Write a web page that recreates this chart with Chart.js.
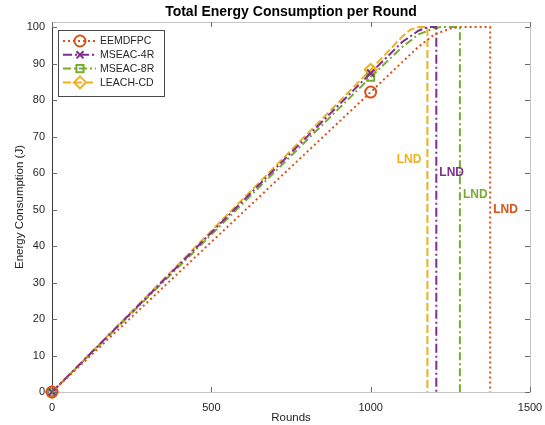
<!DOCTYPE html>
<html>
<head>
<meta charset="utf-8">
<script src="https://cdn.jsdelivr.net/npm/chart.js@4.4.1/dist/chart.umd.min.js"></script>
<style>
  html, body { margin: 0; padding: 0; background: #fff; }
  #wrap { width: 545px; height: 425px; }
</style>
</head>
<body>
<div id="wrap"><canvas id="c" width="545" height="425"></canvas></div>
<script>
// Energy consumed (J) against round number for each protocol
const seriesNames = ['EEMDFPC', 'MSEAC-4R', 'MSEAC-8R', 'LEACH-CD'];
const seriesColors = ['#D95319', '#7E2F8E', '#77AC30', '#EDB120'];

const roundsEEMDFPC = [0, 1000, 1100, 1150, 1200, 1250, 1280, 1375, 1375];
const energyEEMDFPC = [0, 82.2, 90.5, 94.6, 98.0, 99.6, 100, 100, 0];

const roundsMSEAC4R = [0, 1000, 1100, 1150, 1180, 1206, 1206];
const energyMSEAC4R = [0, 87.4, 96.0, 99.0, 100, 100, 0];

const roundsMSEAC8R = [0, 1000, 1100, 1150, 1200, 1220, 1280, 1280];
const energyMSEAC8R = [0, 86.3, 94.6, 98.0, 99.7, 100, 100, 0];

const roundsLEACHCD = [0, 1000, 1100, 1125, 1150, 1178, 1178];
const energyLEACHCD = [0, 88.3, 97.5, 99.3, 100, 100, 0];

// Last-node-dead round and the height of its "LND" tag
const lndRounds = [1375, 1206, 1280, 1178];
const lndTagEnergy = [50, 60, 54, 63.6];
const lndTagText = 'LND';

const xTicks = [0, 500, 1000, 1500];
const yTicks = [0, 10, 20, 30, 40, 50, 60, 70, 80, 90, 100];

const roundsAll = [roundsEEMDFPC, roundsMSEAC4R, roundsMSEAC8R, roundsLEACHCD];
const energyAll = [energyEEMDFPC, energyMSEAC4R, energyMSEAC8R, energyLEACHCD];

const markerStyles = ['circle', 'crossRot', 'rect', 'rectRot'];
const dashStyles = [[2, 3], [9, 3, 2, 3], [8, 3, 2, 3], [8, 3]];
const markerSizes = [5.5, 5, 5, 6];

const FONT = "'Liberation Sans', Arial, Helvetica, sans-serif";

const datasets = seriesNames.map((name, i) => ({
  label: name,
  data: roundsAll[i].map((r, k) => ({ x: r, y: energyAll[i][k] })),
  borderColor: seriesColors[i],
  backgroundColor: 'rgba(0,0,0,0)',
  borderWidth: 2,
  borderDash: dashStyles[i],
  showLine: true,
  tension: 0,
  clip: false,
  pointStyle: markerStyles[i],
  // markers only on the first two samples (round 0 and round 1000)
  pointRadius: roundsAll[i].map((r, k) => (k < 2 ? markerSizes[i] : 0)),
  pointBorderColor: seriesColors[i],
  pointBackgroundColor: 'rgba(0,0,0,0)',
  pointBorderWidth: 2,
  pointHoverRadius: 0
}));

// Axes box, inward ticks, titles, legend and LND tags
const decorations = {
  id: 'decorations',
  beforeDatasetsDraw(chart) {
    const ctx = chart.ctx;
    const a = chart.chartArea;
    ctx.save();
    ctx.lineWidth = 1;
    ctx.strokeStyle = '#c4c4c4';
    ctx.beginPath();
    ctx.moveTo(a.left, a.top + 0.5); ctx.lineTo(a.right + 0.5, a.top + 0.5);
    ctx.lineTo(a.right + 0.5, a.bottom + 0.5); ctx.lineTo(a.left, a.bottom + 0.5);
    ctx.stroke();
    ctx.strokeStyle = '#3a3a3a';
    ctx.beginPath();
    ctx.moveTo(a.left + 0.5, a.top); ctx.lineTo(a.left + 0.5, a.bottom + 1);
    ctx.stroke();
    ctx.restore();
  },
  afterDatasetsDraw(chart) {
    const ctx = chart.ctx;
    const a = chart.chartArea;
    const xs = chart.scales.x, ys = chart.scales.y;
    ctx.save();

    // inward tick marks on all four sides
    ctx.lineWidth = 1;
    ctx.strokeStyle = '#6a6a6a';
    ctx.beginPath();
    yTicks.forEach(v => {
      const py = Math.round(ys.getPixelForValue(v)) + 0.5;
      ctx.moveTo(a.left, py); ctx.lineTo(a.left + 5, py);
      ctx.moveTo(a.right, py); ctx.lineTo(a.right - 5, py);
    });
    xTicks.forEach(v => {
      const px = Math.round(xs.getPixelForValue(v)) + 0.5;
      ctx.moveTo(px, a.bottom); ctx.lineTo(px, a.bottom - 5);
      ctx.moveTo(px, a.top); ctx.lineTo(px, a.top + 5);
    });
    ctx.stroke();

    // LND tags next to each vertical drop
    ctx.font = 'bold 12px ' + FONT;
    ctx.textBaseline = 'middle';
    lndRounds.forEach((r, i) => {
      const px = xs.getPixelForValue(r);
      const py = ys.getPixelForValue(lndTagEnergy[i]);
      ctx.fillStyle = seriesColors[i];
      if (i === 3) { ctx.textAlign = 'right'; ctx.fillText(lndTagText, px - 6, py); }
      else { ctx.textAlign = 'left'; ctx.fillText(lndTagText, px + 3, py); }
    });

    // legend box
    const lx = 58, ly = 30, lw = 106, lh = 66;
    ctx.fillStyle = '#fff';
    ctx.fillRect(lx, ly, lw, lh);
    ctx.strokeStyle = '#4a4a4a';
    ctx.lineWidth = 1;
    ctx.strokeRect(lx + 0.5, ly + 0.5, lw, lh);
    ctx.font = '10.5px ' + FONT;
    ctx.textAlign = 'left';
    ctx.textBaseline = 'middle';
    seriesNames.forEach((name, i) => {
      const yy = ly + 11 + i * 13.8;
      ctx.strokeStyle = seriesColors[i];
      ctx.lineWidth = 2;
      ctx.setLineDash(dashStyles[i]);
      ctx.beginPath(); ctx.moveTo(lx + 5, yy); ctx.lineTo(lx + 38, yy); ctx.stroke();
      ctx.setLineDash([]);
      ctx.fillStyle = 'rgba(0,0,0,0)';
      ctx.strokeStyle = seriesColors[i];
      ctx.lineWidth = 2;
      Chart.helpers.drawPoint(ctx, {
        pointStyle: markerStyles[i], rotation: 0,
        radius: markerSizes[i], borderWidth: 2
      }, lx + 22, yy);
      ctx.fillStyle = '#262626';
      ctx.fillText(name, lx + 42, yy + 0.5);
    });

    // title and axis labels
    ctx.fillStyle = '#000';
    ctx.font = 'bold 14px ' + FONT;
    ctx.textAlign = 'center';
    ctx.textBaseline = 'middle';
    ctx.fillText('Total Energy Consumption per Round', (a.left + a.right) / 2, 12);
    ctx.fillStyle = '#262626';
    ctx.font = '11.5px ' + FONT;
    ctx.fillText('Rounds', (a.left + a.right) / 2, 418);
    ctx.translate(20, (a.top + a.bottom) / 2);
    ctx.rotate(-Math.PI / 2);
    ctx.fillText('Energy Consumption (J)', 0, 0);
    ctx.restore();
  }
};

new Chart(document.getElementById('c'), {
  type: 'scatter',
  data: { datasets },
  options: {
    responsive: false,
    animation: false,
    events: [],
    layout: { padding: { top: 22, right: 15, bottom: 0, left: 0 } },
    plugins: { legend: { display: false }, title: { display: false }, tooltip: { enabled: false } },
    scales: {
      x: {
        type: 'linear', min: 0, max: 1500,
        afterBuildTicks: s => { s.ticks = xTicks.map(v => ({ value: v })); },
        afterFit: s => { s.height = 33; s.paddingLeft = 0; s.paddingRight = 0; },
        grid: { display: false, drawTicks: false },
        border: { display: false },
        ticks: { color: '#262626', font: { family: FONT, size: 11 }, padding: 9, maxRotation: 0,
                 callback: v => String(v) }
      },
      y: {
        type: 'linear', min: 0, max: 101.4,
        afterBuildTicks: s => { s.ticks = yTicks.map(v => ({ value: v })); },
        afterFit: s => { s.width = 52; s.paddingTop = 0; s.paddingBottom = 0; },
        grid: { display: false, drawTicks: false },
        border: { display: false },
        ticks: { color: '#262626', font: { family: FONT, size: 11 }, padding: 7,
                 callback: v => String(v) }
      }
    }
  },
  plugins: [decorations]
});
</script>
</body>
</html>
